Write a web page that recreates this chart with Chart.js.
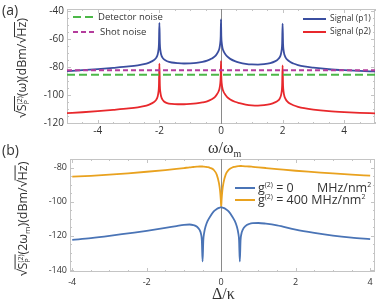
<!DOCTYPE html>
<html>
<head>
<meta charset="utf-8">
<script src="https://cdn.jsdelivr.net/npm/chart.js@4"></script>
<style>
  body { margin: 0; background: #fff; }
  #wrap { position: relative; width: 378px; height: 303px; overflow: hidden; font-family: "Open Sans", sans-serif; color: #333; }
  .box { position: absolute; left: 0; width: 378px; }
  .t { position: absolute; white-space: nowrap; line-height: 1; }
  .ylab { position: absolute; white-space: nowrap; font-size: 12.5px; line-height: 1; transform: translate(-50%, -50%) rotate(-90deg); }
  .ov { display: inline-block; line-height: 1; border-top: 1px solid #333; padding-top: 1px; }
  .ss { display: inline-flex; flex-direction: column; font-size: 7px; line-height: 7px; vertical-align: middle; text-align: left; }
  .serif { font-family: "Liberation Serif", serif; font-size: 16px; }
  .ln { position: absolute; height: 2px; }
</style>
</head>
<body>
<div id="wrap">
  <div class="box" style="top:0;height:145px"><canvas id="chartA"></canvas></div>
  <div class="box" style="top:150px;height:153px"><canvas id="chartB"></canvas></div>

  <div class="t" style="left:2px;top:3px;font-size:14px">(a)</div>
  <div class="t" style="left:2px;top:143px;font-size:14px">(b)</div>

  <div class="ylab" style="left:22px;top:68px">√<span class="ov">S<span class="ss"><span>(2)</span><span>P</span></span></span>(ω)(dBm/√<span class="ov">Hz</span>)</div>
  <div class="ylab" style="left:23px;top:219px">√<span class="ov">S<span class="ss"><span>(2)</span><span>P</span></span></span>(2ω<sub style="font-size:8px">m</sub>)(dBm/√<span class="ov">Hz</span>)</div>

  <div class="t serif" style="left:208px;top:140px">ω/ω<sub style="font-size:10px">m</sub></div>
  <div class="t serif" style="left:212px;top:286px">Δ/κ</div>

  <!-- legend (a), left -->
  <div class="ln" style="left:73px;top:16px;width:24px;background:repeating-linear-gradient(90deg,#4cb848 0 8px,transparent 8px 12px)"></div>
  <div class="t" style="left:98px;top:12px;font-size:9.5px">Detector noise</div>
  <div class="ln" style="left:73px;top:31px;width:24px;background:repeating-linear-gradient(90deg,#b43c9c 0 5px,transparent 5px 8px)"></div>
  <div class="t" style="left:100px;top:27px;font-size:9.5px">Shot noise</div>

  <!-- legend (a), right -->
  <div class="ln" style="left:303px;top:18px;width:23px;background:#3a4ea0"></div>
  <div class="t" style="left:330px;top:14px;font-size:8.5px">Signal (p1)</div>
  <div class="ln" style="left:303px;top:31px;width:23px;background:#e8282c"></div>
  <div class="t" style="left:330px;top:27px;font-size:8.5px">Signal (p2)</div>

  <!-- legend (b) -->
  <div class="ln" style="left:235px;top:187px;width:20px;background:#4a74b6"></div>
  <div class="t" style="left:258px;top:181px;font-size:12.5px">g<sup style="font-size:7px">(2)</sup> = 0</div>
  <div class="t" style="left:317px;top:181px;font-size:12.5px">MHz/nm<sup style="font-size:7px">2</sup></div>
  <div class="ln" style="left:235px;top:199px;width:20px;background:#e9a21f"></div>
  <div class="t" style="left:258px;top:193px;font-size:12.5px">g<sup style="font-size:7px">(2)</sup> = 400 MHz/nm<sup style="font-size:7px">2</sup></div>
</div>

<script>
// panel (a): spectrum vs omega/omega_m
const xA = [
  -5, -4.5, -4, -3.5, -3, -2.7, -2.5, -2.35, -2.25, -2.15, -2.1, -2.06, -2.03, -2.015, -2,
  -1.985, -1.97, -1.94, -1.9, -1.85, -1.75, -1.6, -1.4, -1.2, -1,
  -0.8, -0.6, -0.45, -0.3, -0.2, -0.13, -0.08, -0.05, -0.025, -0.01, 0,
  0.01, 0.025, 0.05, 0.08, 0.13, 0.2, 0.3, 0.45, 0.6, 0.8,
  1, 1.2, 1.4, 1.6, 1.75, 1.85, 1.9, 1.94, 1.97, 1.985, 2,
  2.015, 2.03, 2.06, 2.1, 2.15, 2.25, 2.35, 2.5, 2.7, 3, 3.5, 4, 4.5, 5
];
const signalP1 = [
  -83, -82.3, -81.5, -80.6, -79.6, -78.8, -78, -77, -76, -74.6, -73.3, -71.3, -67.8, -63.5, -48.5,
  -63.5, -67.8, -71.3, -73.3, -74.6, -75.9, -76.8, -77.3, -77.5, -77.4,
  -77.1, -76.4, -75.5, -74, -72.5, -70.5, -68.5, -66.5, -63, -58, -46,
  -58, -63, -66.5, -68.5, -70.5, -72.5, -74.2, -75.8, -76.8, -77.7,
  -78.2, -78.3, -78, -77.2, -76, -74.5, -73.2, -71.2, -67.8, -63.5, -49,
  -63.5, -67.8, -71.3, -73.3, -74.8, -76.5, -77.5, -78.6, -79.6, -80.5, -81.6, -82.3, -82.8, -83.2
];
const signalP2 = [
  -113, -112.3, -111.5, -110.6, -109.6, -108.8, -108, -107, -106, -104.6, -103.3, -101.3, -97.8, -93.5, -77.6,
  -93.5, -97.8, -101.3, -103.3, -104.6, -105.8, -106.4, -106.6, -106.6, -106.4,
  -106, -105.3, -104.5, -103, -101.5, -99.5, -97.5, -95.5, -92, -87, -75.8,
  -87, -92, -95.5, -97.5, -99.5, -101.5, -103.2, -104.8, -105.8, -106.8,
  -107.4, -107.6, -107.3, -106.5, -105.3, -104, -102.8, -100.8, -97.5, -93.3, -78.8,
  -93.3, -97.5, -101, -103, -104.5, -106.3, -107.3, -108.4, -109.4, -110.4, -111.5, -112.2, -112.7, -113.1
];
const noiseX = [-5, 5];
const detectorNoise = [-85.6, -85.6];
const shotNoise = [-82.3, -82.3];
const xTicksA = [-4, -2, 0, 2, 4];
const yTicksA = [-120, -100, -80, -60, -40];

// panel (b): spectrum at 2*omega_m vs detuning
const xB = [
  -4, -3.5, -3, -2.5, -2, -1.5, -1.2, -1, -0.85, -0.75,
  -0.65, -0.58, -0.54, -0.52, -0.5, -0.48, -0.46, -0.42, -0.36, -0.3,
  -0.2, -0.12, -0.06, -0.03, -0.01, 0, 0.01, 0.03, 0.06, 0.12, 0.2,
  0.3, 0.36, 0.42, 0.46, 0.48, 0.5, 0.52, 0.54, 0.58, 0.65,
  0.75, 0.85, 1, 1.2, 1.5, 2, 2.5, 3, 3.5, 4
];
const g0 = [
  -122.3, -121.3, -120, -118.5, -117, -115.3, -114.2, -113.5, -113.3, -113.6,
  -114.6, -116.5, -119, -122.5, -135, -122.5, -118.5, -114.5, -111, -108.7,
  -105.6, -104.2, -103.5, -103.3, -103.2, -103.2, -103.2, -103.3, -103.5, -104.2, -105.6,
  -108.7, -111, -114.5, -118.5, -122.5, -135, -122.5, -119, -116.3, -114.2,
  -113, -112.5, -112.4, -112.8, -113.8, -116.3, -118.2, -119.8, -121, -121.9
];
const g400 = [
  -85.2, -84.7, -84, -83.2, -82.3, -81.3, -80.6, -80.1, -79.7, -79.5,
  -79.3, -79.2, -79.2, -79.2, -79.2, -79.3, -79.3, -79.4, -79.6, -80,
  -81.2, -84, -89, -93.5, -99, -103, -99, -93.5, -89, -84, -81.2,
  -79.8, -79.4, -79.1, -79, -79, -78.9, -78.9, -78.9, -79, -79.1,
  -79.2, -79.4, -79.7, -80.1, -80.7, -81.7, -82.5, -83.3, -84, -84.6
];
const xTicksB = [-4, -2, 0, 2, 4];
const yTicksB = [-140, -120, -100, -80];

const pts = (xs, ys) => xs.map((x, i) => ({ x: x, y: ys[i] }));

// frame with small inward ticks + grey line at x = 0
const framePlugin = {
  id: 'frame',
  beforeDatasetsDraw(chart, args, opts) {
    const { ctx, chartArea: a, scales } = chart;
    const sx = scales.x, sy = scales.y;
    ctx.save();
    ctx.strokeStyle = '#c4c4c4';
    ctx.lineWidth = 1;
    ctx.strokeRect(a.left + 0.5, a.top + 0.5, a.right - a.left - 1, a.bottom - a.top - 1);
    const mark = (v, len, horiz) => {
      if (horiz) {
        const p = Math.round(sx.getPixelForValue(v)) + 0.5;
        ctx.moveTo(p, a.bottom); ctx.lineTo(p, a.bottom - len);
        ctx.moveTo(p, a.top); ctx.lineTo(p, a.top + len);
      } else {
        const p = Math.round(sy.getPixelForValue(v)) + 0.5;
        ctx.moveTo(a.left, p); ctx.lineTo(a.left + len, p);
        ctx.moveTo(a.right, p); ctx.lineTo(a.right - len, p);
      }
    };
    ctx.beginPath();
    for (let v = Math.ceil(sx.min / opts.minorX) * opts.minorX; v <= sx.max; v += opts.minorX) mark(v, 2, true);
    for (let v = Math.ceil(sy.min / opts.minorY) * opts.minorY; v <= sy.max; v += opts.minorY) mark(v, 2, false);
    opts.xt.forEach(v => mark(v, 4, true));
    opts.yt.forEach(v => mark(v, 4, false));
    ctx.stroke();
    const z = Math.round(sx.getPixelForValue(0)) + 0.5;
    ctx.strokeStyle = '#8a8a8a';
    ctx.beginPath();
    ctx.moveTo(z, a.top); ctx.lineTo(z, a.bottom);
    ctx.stroke();
    ctx.restore();
  }
};

function lineSet(data, color, extra) {
  return Object.assign({
    data: data, borderColor: color, borderWidth: 1.8, pointRadius: 0,
    cubicInterpolationMode: 'monotone', fill: false
  }, extra || {});
}

function makeOptions(cfg) {
  return {
    responsive: true,
    maintainAspectRatio: false,
    animation: false,
    layout: { padding: cfg.pad },
    plugins: { legend: { display: false }, tooltip: { enabled: false }, frame: cfg.frame },
    scales: {
      x: {
        type: 'linear', min: cfg.xmin, max: cfg.xmax,
        grid: { display: false, drawTicks: false }, border: { display: false },
        afterBuildTicks: s => { s.ticks = cfg.frame.xt.map(v => ({ value: v })); },
        afterFit: s => { s.height = cfg.xh; },
        ticks: { color: '#333', padding: cfg.xpad, maxRotation: 0, font: { family: 'Open Sans', size: cfg.fs } }
      },
      y: {
        type: 'linear', min: cfg.ymin, max: cfg.ymax,
        grid: { display: false, drawTicks: false }, border: { display: false },
        afterBuildTicks: s => { s.ticks = cfg.frame.yt.map(v => ({ value: v })); },
        afterFit: s => { s.width = cfg.yw; },
        ticks: { color: '#333', padding: 3, font: { family: 'Open Sans', size: cfg.fs } }
      }
    }
  };
}

new Chart(document.getElementById('chartA'), {
  type: 'line',
  data: {
    datasets: [
      lineSet(pts(noiseX, detectorNoise), '#4cb848', { borderDash: [8, 4], borderWidth: 2, cubicInterpolationMode: 'default' }),
      lineSet(pts(noiseX, shotNoise), '#b43c9c', { borderDash: [5, 3], borderWidth: 2, cubicInterpolationMode: 'default' }),
      lineSet(pts(xA, signalP1), '#3a4ea0'),
      lineSet(pts(xA, signalP2), '#e8282c')
    ]
  },
  options: makeOptions({
    pad: { top: 4, right: 3, left: 0, bottom: 0 },
    xmin: -5, xmax: 5, ymin: -120.7, ymax: -38.6,
    xh: 21, yw: 67, xpad: 1, fs: 10,
    frame: { xt: xTicksA, yt: yTicksA, minorX: 0.5, minorY: 5 }
  }),
  plugins: [framePlugin]
});

new Chart(document.getElementById('chartB'), {
  type: 'line',
  data: {
    datasets: [
      lineSet(pts(xB, g0), '#4a74b6'),
      lineSet(pts(xB, g400), '#e9a21f')
    ]
  },
  options: makeOptions({
    pad: { top: 9, right: 3, left: 0, bottom: 0 },
    xmin: -4.06, xmax: 4.13, ymin: -141.2, ymax: -74.8,
    xh: 31, yw: 70, xpad: 5, fs: 9,
    frame: { xt: xTicksB, yt: yTicksB, minorX: 0.5, minorY: 5 }
  }),
  plugins: [framePlugin]
});
</script>
</body>
</html>
